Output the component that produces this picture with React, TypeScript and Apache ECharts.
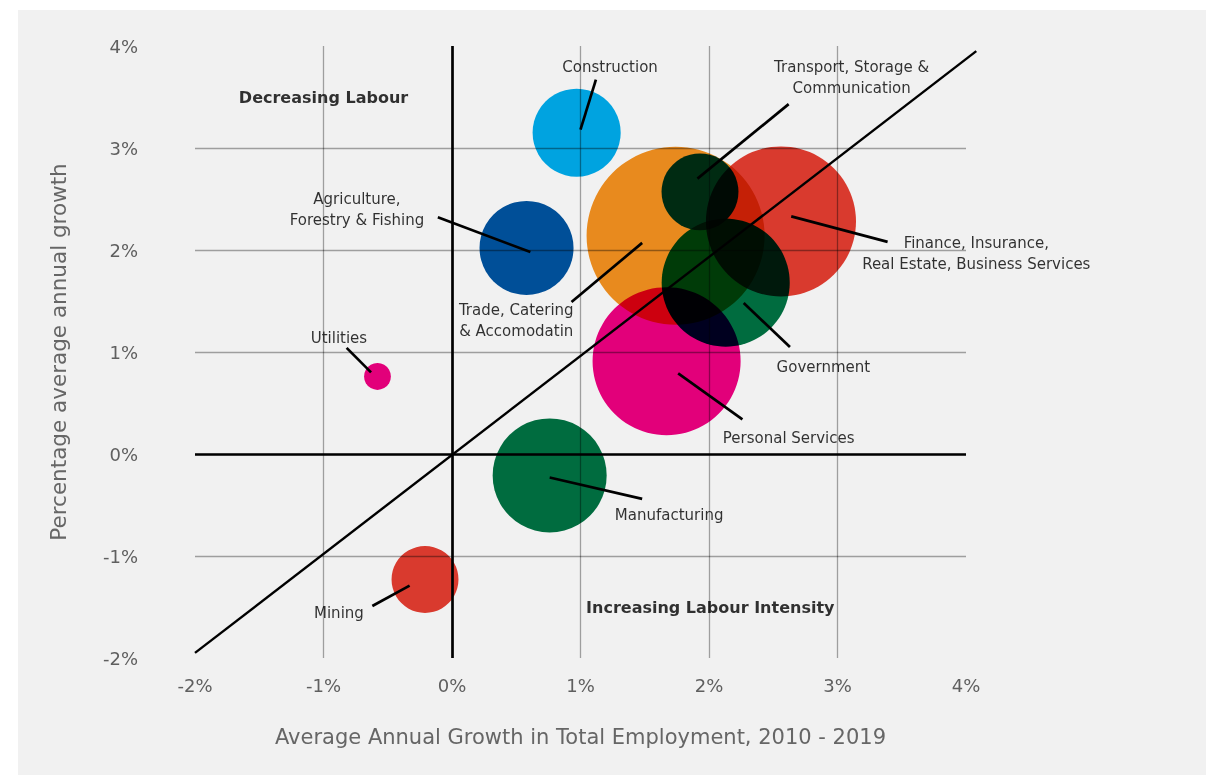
import React, { useEffect, useRef } from "react";
import * as echarts from "echarts";

// ---- Data ----
const sectors = [
  "Construction",
  "Agriculture, Forestry & Fishing",
  "Utilities",
  "Mining",
  "Manufacturing",
  "Personal Services",
  "Trade, Catering & Accomodatin",
  "Transport, Storage & Communication",
  "Finance, Insurance, Real Estate, Business Services",
  "Government",
];
// Average annual growth in total employment, 2010-2019 (%)
const employmentGrowth = [0.97, 0.58, -0.58, -0.21, 0.76, 1.67, 1.74, 1.93, 2.56, 2.13];
// Percentage average annual growth (%)
const outputGrowth = [3.15, 2.02, 0.76, -1.23, -0.21, 0.91, 2.14, 2.57, 2.28, 1.68];
// Relative bubble weight (area)
const bubbleWeight = [19.4, 22.1, 1.8, 11.2, 32.5, 54.8, 79.2, 14.8, 56.3, 41.0];

const sectorColors = [
  "#00a3e0", "#004f98", "#e2007a", "#d93a2e", "#006c3f",
  "#e2007a", "#e88a1e", "#004f98", "#d93a2e", "#006c3f",
];

const labelTexts = [
  "Construction",
  "Agriculture,\nForestry & Fishing",
  "Utilities",
  "Mining",
  "Manufacturing",
  "Personal Services",
  "Trade, Catering\n& Accomodatin",
  "Transport, Storage &\nCommunication",
  "Finance, Insurance,\nReal Estate, Business Services",
  "Government",
];
const labelAnchor = [
  [1.23, 3.79], [-0.74, 2.40], [-0.88, 1.14], [-0.88, -1.56], [1.69, -0.60],
  [2.62, 0.16], [0.50, 1.31], [3.11, 3.69], [4.08, 1.97], [2.89, 0.85],
];
const leaderFrom = [
  [1.00, 3.18], [0.61, 1.98], [-0.63, 0.80], [-0.33, -1.29], [0.76, -0.23],
  [1.76, 0.79], [1.48, 2.07], [1.91, 2.70], [2.64, 2.33], [2.27, 1.48],
];
const leaderTo = [
  [1.12, 3.67], [-0.11, 2.32], [-0.82, 1.04], [-0.62, -1.49], [1.48, -0.44],
  [2.26, 0.34], [0.93, 1.49], [2.62, 3.43], [3.39, 2.08], [2.63, 1.05],
];

const diagonal = [[-2, -1.95], [4.08, 3.95]];

const quadrantLabels = ["Decreasing Labour", "Increasing Labour Intensity"];
const quadrantAnchor = [[-1.0, 3.5], [2.01, -1.5]];

const xTicks = { min: -2, max: 4, interval: 1 };
const yTicks = { min: -2, max: 4, interval: 1 };

const FONT = "'DejaVu Sans', 'Open Sans', sans-serif";

export default function App() {
  const ref = useRef<HTMLDivElement>(null);

  useEffect(() => {
    if (!ref.current) return;
    const chart = echarts.init(ref.current, undefined, { renderer: "svg" });

    const bubbles = sectors.map((name, i) => ({
      name,
      value: [employmentGrowth[i], outputGrowth[i], bubbleWeight[i]],
      itemStyle: { color: sectorColors[i], opacity: 1 },
    }));

    const leaders = sectors.map((_, i) => ({ coords: [leaderFrom[i], leaderTo[i]] }));

    const labels = labelTexts.map((t, i) => ({ name: t, value: labelAnchor[i] }));
    const quads = quadrantLabels.map((t, i) => ({ name: t, value: quadrantAnchor[i] }));

    chart.setOption({
      animation: false,
      grid: { left: 195, right: 240, top: 46, bottom: 117 },
      xAxis: {
        type: "value",
        min: xTicks.min,
        max: xTicks.max,
        interval: xTicks.interval,
        name: "Average Annual Growth in Total Employment, 2010 - 2019",
        nameLocation: "middle",
        nameGap: 68,
        nameTextStyle: { color: "#666", fontSize: 21, fontFamily: FONT },
        axisLine: { show: false, onZero: false },
        axisTick: { show: false },
        axisLabel: {
          color: "#5f5f5f",
          fontSize: 18,
          margin: 18,
          fontFamily: FONT,
          formatter: (v: number) => `${v}%`,
        },
        splitLine: {
          show: true,
          showMinLine: false,
          showMaxLine: false,
          lineStyle: { color: "#9e9e9e", width: 1.3 },
        },
      },
      yAxis: {
        type: "value",
        min: yTicks.min,
        max: yTicks.max,
        interval: yTicks.interval,
        name: "Percentage average annual growth",
        nameLocation: "middle",
        nameGap: 126,
        nameTextStyle: { color: "#666", fontSize: 21.5, fontFamily: FONT },
        axisLine: { show: false, onZero: false },
        axisTick: { show: false },
        axisLabel: {
          color: "#5f5f5f",
          fontSize: 18,
          margin: 57,
          fontFamily: FONT,
          formatter: (v: number) => `${v}%`,
        },
        splitLine: {
          show: true,
          showMinLine: false,
          showMaxLine: false,
          lineStyle: { color: "#9e9e9e", width: 1.3 },
        },
      },
      series: [
        {
          type: "scatter",
          data: bubbles,
          symbol: "circle",
          symbolSize: (val: number[]) => 20 * Math.sqrt(val[2]),
          silent: true,
          z: 2,
          markLine: {
            silent: true,
            symbol: "none",
            label: { show: false },
            lineStyle: { color: "#000", width: 2.7, type: "solid" },
            data: [{ xAxis: 0 }, { yAxis: 0 }],
          },
        },
        {
          type: "lines",
          coordinateSystem: "cartesian2d",
          clip: false,
          silent: true,
          z: 4,
          lineStyle: { color: "#000", width: 2.4, opacity: 1 },
          data: [{ coords: diagonal }],
        },
        {
          type: "lines",
          coordinateSystem: "cartesian2d",
          clip: false,
          silent: true,
          z: 5,
          lineStyle: { color: "#000", width: 2.7, opacity: 1 },
          data: leaders,
        },
        {
          type: "scatter",
          data: labels,
          clip: false,
          silent: true,
          symbolSize: 1,
          itemStyle: { color: "rgba(0,0,0,0)" },
          z: 6,
          label: {
            show: true,
            position: "inside",
            formatter: (p: any) => p.name,
            color: "#000",
            fontSize: 15,
            lineHeight: 21,
            align: "center",
            fontFamily: FONT,
          },
        },
        {
          type: "scatter",
          data: quads,
          clip: false,
          silent: true,
          symbolSize: 1,
          itemStyle: { color: "rgba(0,0,0,0)" },
          z: 6,
          label: {
            show: true,
            position: "inside",
            formatter: (p: any) => p.name,
            color: "#000",
            fontSize: 16,
            fontWeight: "bold",
            align: "center",
            fontFamily: FONT,
          },
        },
      ],
    });

    return () => chart.dispose();
  }, []);

  return (
    <div style={{ position: "fixed", left: 0, top: 0, width: 1206, height: 775, background: "#ffffff" }}>
      <style>{`.mbchart svg path { mix-blend-mode: multiply; }`}</style>
      <div style={{ position: "absolute", left: 18, top: 10, right: 0, bottom: 0, background: "#f1f1f1" }} />
      <div
        ref={ref}
        className="mbchart"
        style={{ position: "absolute", left: 0, top: 0, width: 1206, height: 775, isolation: "isolate" }}
      />
    </div>
  );
}
